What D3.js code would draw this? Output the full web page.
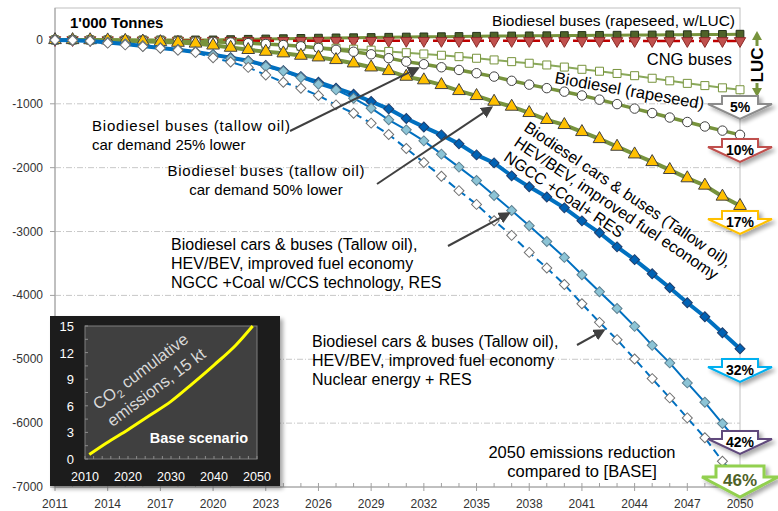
<!DOCTYPE html>
<html>
<head>
<meta charset="utf-8">
<script src="https://cdn.jsdelivr.net/npm/d3@7"></script>
<style>
  body { margin: 0; background: #fff; }
  svg { font-family: "Liberation Sans", Arial, sans-serif; }
</style>
</head>
<body>
<svg id="chart" width="778" height="511"></svg>
<script>
// years on the x axis
const years = [2011, 2012, 2013, 2014, 2015, 2016, 2017, 2018, 2019, 2020,
               2021, 2022, 2023, 2024, 2025, 2026, 2027, 2028, 2029, 2030,
               2031, 2032, 2033, 2034, 2035, 2036, 2037, 2038, 2039, 2040,
               2041, 2042, 2043, 2044, 2045, 2046, 2047, 2048, 2049, 2050];
const yTicks = [0, -1000, -2000, -3000, -4000, -5000, -6000, -7000];
const xLabelYears = [2011, 2014, 2017, 2020, 2023, 2026, 2029, 2032, 2035, 2038, 2041, 2044, 2047, 2050];

// emission change vs base, 1'000 tonnes
const busesRapeseedLuc = [0, 0, 0, 0, 0, 0, 0, 0, 0, 0,
  5, 10, 15, 20, 24, 28, 32, 35, 38, 42,
  45, 48, 51, 54, 57, 60, 62, 64, 66, 68,
  70, 72, 74, 76, 78, 80, 82, 85, 87, 90];
const busesRapeseed = [0, 0, 0, -2, -4, -6, -8, -10, -11, -12,
  -12, -12, -12, -13, -13, -13, -13, -13, -13, -13,
  -13, -13, -13, -14, -14, -14, -14, -14, -14, -14,
  -14, -14, -15, -15, -15, -15, -15, -15, -15, -15];
const cngBuses = [0, 0, 0, -2, -5, -8, -12, -18, -25, -35,
  -45, -55, -70, -85, -100, -115, -130, -145, -160, -180,
  -200, -220, -240, -262, -287, -313, -340, -365, -392, -425,
  -460, -490, -525, -560, -600, -640, -680, -715, -750, -780];
const biodieselRapeseed = [0, 0, 0, -3, -6, -10, -14, -19, -25, -30,
  -40, -50, -63, -80, -100, -125, -155, -185, -225, -285,
  -340, -380, -428, -470, -521, -574, -640, -700, -755, -810,
  -870, -935, -1005, -1075, -1145, -1215, -1285, -1355, -1420, -1486];
const biodieselTallow = [0, 0, -2, -5, -12, -22, -32, -42, -55, -85,
  -120, -155, -183, -208, -245, -271, -313, -365, -428, -485,
  -574, -630, -704, -798, -876, -965, -1043, -1142, -1251, -1330,
  -1440, -1550, -1670, -1790, -1910, -2034, -2164, -2279, -2451, -2597];
const tallowHevNgccRes = [0, -5, -15, -40, -65, -95, -125, -155, -190, -230,
  -280, -325, -400, -480, -574, -662, -756, -850, -965, -1080,
  -1230, -1362, -1487, -1627, -1800, -1925, -2128, -2300, -2460, -2629,
  -2833, -3020, -3240, -3440, -3660, -3880, -4116, -4335, -4585, -4836];
const tallowHevCcsRes = [0, -5, -15, -40, -65, -95, -125, -155, -190, -235,
  -290, -335, -415, -490, -590, -693, -782, -912, -1069, -1251,
  -1408, -1580, -1788, -1991, -2200, -2435, -2670, -2909, -3155, -3405,
  -3676, -3942, -4205, -4485, -4782, -5057, -5370, -5674, -6007, -6330];
const tallowHevNuclearRes = [0, -5, -15, -50, -78, -104, -130, -160, -195, -280,
  -345, -430, -548, -662, -756, -871, -1017, -1147, -1303, -1480,
  -1700, -1919, -2135, -2360, -2575, -2830, -3060, -3327, -3571, -3830,
  -4130, -4422, -4693, -4995, -5303, -5605, -5918, -6230, -6596, -6900];

// 2050 reduction labels
const reductionLabels = ["5%", "10%", "17%", "32%", "42%", "46%"];

// inset: base scenario cumulative CO2, kt
const insetYears = [2011, 2015, 2020, 2025, 2030, 2035, 2040, 2045, 2049];
const insetValues = [0.5, 1.8, 3.3, 4.9, 6.5, 8.5, 10.6, 12.8, 15];
const insetYTicks = [0, 3, 6, 9, 12, 15];
const insetXTicks = [2010, 2020, 2030, 2040, 2050];

const svg = d3.select("#chart");
const pLeft = 55, pRight = 740, pTop = 8, pBottom = 487;

const x = d3.scaleLinear().domain([2011, 2050]).range([pLeft, pRight]);
const y = d3.scaleLinear().domain([-7000, 500]).range([pBottom, pTop]);

const defs = svg.append("defs");
defs.append("marker")
  .attr("id", "ahead")
  .attr("viewBox", "0 0 10 10")
  .attr("refX", 8).attr("refY", 5)
  .attr("markerWidth", 6).attr("markerHeight", 6)
  .attr("orient", "auto")
  .append("path").attr("d", "M0,0 L10,5 L0,10 Z").attr("fill", "#404040");
const sh = defs.append("filter").attr("id", "shadow").attr("x", "-20%").attr("y", "-20%").attr("width", "150%").attr("height", "150%");
sh.append("feGaussianBlur").attr("in", "SourceAlpha").attr("stdDeviation", 2);
sh.append("feOffset").attr("dx", 3).attr("dy", 3).attr("result", "b");
sh.append("feComponentTransfer").append("feFuncA").attr("type", "linear").attr("slope", 0.35);
const mg = sh.append("feMerge");
mg.append("feMergeNode");
mg.append("feMergeNode").attr("in", "SourceGraphic");

// grid
svg.append("g").selectAll("line")
  .data(yTicks.filter(d => d !== 0 && d !== -7000))
  .join("line")
  .attr("x1", pLeft).attr("x2", pRight)
  .attr("y1", d => y(d)).attr("y2", d => y(d))
  .attr("stroke", "#c8c8c8").attr("stroke-width", 1)
  .attr("stroke-dasharray", "6,2,1,2");

// frame
svg.append("rect").attr("x", pLeft).attr("y", pTop).attr("width", pRight - pLeft).attr("height", pBottom - pTop)
  .attr("fill", "none").attr("stroke", "#c0c0c0").attr("stroke-width", 1);
svg.append("line").attr("x1", pLeft).attr("x2", pLeft).attr("y1", pTop).attr("y2", pBottom).attr("stroke", "#a0a0a0");
svg.append("line").attr("x1", pLeft).attr("x2", pRight).attr("y1", pBottom).attr("y2", pBottom).attr("stroke", "#a0a0a0");

// y axis
const yAxis = svg.append("g");
yAxis.selectAll("line").data(yTicks).join("line")
  .attr("x1", pLeft - 5).attr("x2", pLeft).attr("y1", d => y(d)).attr("y2", d => y(d)).attr("stroke", "#a0a0a0");
yAxis.selectAll("text").data(yTicks).join("text")
  .attr("x", pLeft - 12).attr("y", d => y(d) + 4)
  .attr("text-anchor", "end").attr("font-size", 12).attr("fill", "#333")
  .text(d => d);

// x axis
const xAxis = svg.append("g");
xAxis.selectAll("line.minor").data(years).join("line").attr("class", "minor")
  .attr("x1", d => x(d)).attr("x2", d => x(d)).attr("y1", pBottom - 4).attr("y2", pBottom).attr("stroke", "#a0a0a0");
xAxis.selectAll("line.major").data(xLabelYears).join("line").attr("class", "major")
  .attr("x1", d => x(d)).attr("x2", d => x(d)).attr("y1", pBottom).attr("y2", pBottom + 4).attr("stroke", "#a0a0a0");
xAxis.selectAll("text").data(xLabelYears).join("text")
  .attr("x", d => x(d)).attr("y", 508)
  .attr("text-anchor", "middle").attr("font-size", 12).attr("fill", "#333")
  .text(d => d);

// series
const series = [
  { v: busesRapeseedLuc, color: "#77933c", lw: 3, sym: d3.symbolSquare, size: 60, rot: 0, fill: "#4f6228", stroke: "#26331a" },
  { v: busesRapeseed, color: "#c00000", lw: 2.5, dash: "9,5", sym: d3.symbolTriangle, size: 55, rot: 180, fill: "#c0504d", stroke: "#8c2b28" },
  { v: cngBuses, color: "#8aa95a", lw: 2, sym: d3.symbolSquare, size: 64, rot: 0, fill: "#fff", stroke: "#77933c" },
  { v: biodieselRapeseed, color: "#77933c", lw: 3.5, sym: d3.symbolCircle, size: 70, rot: 0, fill: "#fff", stroke: "#404040" },
  { v: biodieselTallow, color: "#77933c", lw: 4, sym: d3.symbolTriangle, size: 70, rot: 0, fill: "#ffc000", stroke: "#404040" },
  { v: tallowHevNgccRes, color: "#0070c0", lw: 4, sym: d3.symbolSquare, size: 50, rot: 45, fill: "#0062b4", stroke: "#1f3d6b" },
  { v: tallowHevCcsRes, color: "#0070c0", lw: 2, sym: d3.symbolSquare, size: 50, rot: 45, fill: "#8cc4d6", stroke: "#5f8090" },
  { v: tallowHevNuclearRes, color: "#0070c0", lw: 2, dash: "8,5", sym: d3.symbolSquare, size: 50, rot: 45, fill: "#fff", stroke: "#707070" }
];

const line = d3.line().x((d, i) => x(years[i])).y(d => y(d));

series.forEach(s => {
  const g = svg.append("g");
  g.append("path").datum(s.v)
    .attr("d", line).attr("fill", "none")
    .attr("stroke", s.color).attr("stroke-width", s.lw)
    .attr("stroke-dasharray", s.dash || null);
  g.selectAll("path.m").data(s.v).join("path").attr("class", "m")
    .attr("d", d3.symbol().type(s.sym).size(s.size))
    .attr("transform", (d, i) => "translate(" + x(years[i]) + "," + y(d) + ") rotate(" + s.rot + ")")
    .attr("fill", s.fill).attr("stroke", s.stroke).attr("stroke-width", 1);
});

// text helpers
function label(xp, yp, txt, opts) {
  opts = opts || {};
  return svg.append("text")
    .attr("x", xp).attr("y", yp)
    .attr("font-size", opts.size || 15)
    .attr("font-weight", opts.bold ? "bold" : null)
    .attr("text-anchor", opts.anchor || "start")
    .attr("fill", opts.fill || "#000")
    .text(txt);
}

label(70, 28, "1'000 Tonnes", { size: 15, bold: true });
label(735, 26, "Biodiesel buses (rapeseed, w/LUC)", { anchor: "end", size: 15.5 });
label(732, 65, "CNG buses", { anchor: "end", size: 16.5 });
label(554, 83, "Biodiesel (rapeseed)", { size: 16.5 }).attr("transform", "rotate(10,554,83)");

// rotated label for dark blue line
const rl = svg.append("text").attr("font-size", 16).attr("transform", "translate(523,130) rotate(34)");
["Biodiesel cars & buses (Tallow oil),", "HEV/BEV, improved fuel economy", "NGCC +Coal+ RES"].forEach((t, i) => {
  rl.append("tspan").attr("x", 0).attr("y", i * 18).text(t);
});

function block(xp, yp, lines, size, anchor, firstLen) {
  const t = svg.append("text").attr("font-size", size).attr("text-anchor", anchor || "start");
  lines.forEach((l, i) => {
    const ts = t.append("tspan").attr("x", xp).attr("y", yp + i * 19).text(l);
    if (i === 0 && firstLen) ts.attr("textLength", firstLen).attr("lengthAdjust", "spacing");
  });
}
block(92, 131, ["Biodiesel buses (tallow oil)", "car demand 25% lower"], 15, "start", 198);
block(266, 176, ["Biodiesel buses (tallow oil)", "car demand 50% lower"], 15, "middle", 197);
block(171, 250, ["Biodiesel cars & buses (Tallow oil),", "HEV/BEV, improved fuel economy", "NGCC +Coal w/CCS technology, RES"], 16);
block(312, 347, ["Biodiesel cars & buses (Tallow oil),", "HEV/BEV, improved fuel economy", "Nuclear energy + RES"], 16);
block(582, 458, ["2050 emissions reduction", "compared to [BASE]"], 16.5, "middle");

// annotation arrows (tail in px -> head at a data point)
function pointer(x1, y1, yr, val, dx, dy) {
  svg.append("line")
    .attr("x1", x1).attr("y1", y1)
    .attr("x2", x(yr) + dx).attr("y2", y(val) + dy)
    .attr("stroke", "#404040").attr("stroke-width", 2)
    .attr("marker-end", "url(#ahead)");
}
pointer(290, 131, 2032, biodieselRapeseed[21], -6, 4);
pointer(377, 184, 2036, biodieselTallow[25], -3, 6);
pointer(448, 246, 2037, tallowHevCcsRes[26], -3, 3);
pointer(577, 345, 2042, tallowHevNuclearRes[31], 4, 8);

// LUC double arrow
const lucX = 757;
svg.append("line").attr("x1", lucX).attr("x2", lucX).attr("y1", 46).attr("y2", 36)
  .attr("stroke", "#77933c").attr("stroke-width", 3);
svg.append("line").attr("x1", lucX).attr("x2", lucX).attr("y1", 83).attr("y2", 92)
  .attr("stroke", "#77933c").attr("stroke-width", 3);
svg.append("path").attr("d", `M${lucX - 5},40 L${lucX},31 L${lucX + 5},40 Z`).attr("fill", "#77933c");
svg.append("path").attr("d", `M${lucX - 5},88 L${lucX},97 L${lucX + 5},88 Z`).attr("fill", "#77933c");
svg.append("text").attr("transform", `translate(${lucX + 6},65) rotate(-90)`)
  .attr("text-anchor", "middle").attr("font-size", 17).attr("font-weight", "bold").text("LUC");

// 2050 reduction block arrows
const arrowStyle = [
  { at: 96, color: "#8c8c8c", big: false, tc: "#000" },
  { at: 139, color: "#c0504d", big: false, tc: "#000" },
  { at: 211, color: "#ffc000", big: false, tc: "#000" },
  { at: 359, color: "#00b0f0", big: false, tc: "#000" },
  { at: 431, color: "#604a7b", big: false, tc: "#000" },
  { at: 466, color: "#92d050", big: true, tc: "#4f6228" }
];
reductionLabels.forEach((t, i) => {
  const a = arrowStyle[i];
  const cx = x(2050);
  const bw = a.big ? 48 : 36, hw = a.big ? 76 : 64, bh = a.big ? 11 : 8, hh = a.big ? 20 : 15;
  const p = `M${cx - bw / 2},${a.at} H${cx + bw / 2} V${a.at + bh} H${cx + hw / 2} L${cx},${a.at + bh + hh} L${cx - hw / 2},${a.at + bh} H${cx - bw / 2} Z`;
  svg.append("path").attr("d", p).attr("fill", "#fff")
    .attr("stroke", a.color).attr("stroke-width", a.big ? 3 : 2).attr("stroke-linejoin", "miter")
    .attr("filter", "url(#shadow)");
  svg.append("text").attr("x", cx).attr("y", a.at + (a.big ? 20 : 16))
    .attr("text-anchor", "middle").attr("font-weight", "bold")
    .attr("font-size", a.big ? 17 : 14).attr("fill", a.tc).text(t);
});

// inset chart
const inset = svg.append("g");
inset.append("rect").attr("x", 50).attr("y", 316).attr("width", 230).attr("height", 170)
  .attr("fill", "#1f1f1f").attr("filter", "url(#shadow)");
const xi = d3.scaleLinear().domain([2010, 2050]).range([85, 257]);
const yi = d3.scaleLinear().domain([0, 15]).range([459, 326]);
inset.append("rect").attr("x", xi(2010)).attr("y", yi(15)).attr("width", xi(2050) - xi(2010)).attr("height", yi(0) - yi(15))
  .attr("fill", "#404040").attr("stroke", "#7f7f7f");
inset.selectAll("line.yt").data(d3.range(0, 15.1, 1.5)).join("line").attr("class", "yt")
  .attr("x1", xi(2010)).attr("x2", xi(2010) + 3).attr("y1", d => yi(d)).attr("y2", d => yi(d)).attr("stroke", "#8c8c8c");
inset.selectAll("line.xt").data(d3.range(2010, 2051, 2)).join("line").attr("class", "xt")
  .attr("x1", d => xi(d)).attr("x2", d => xi(d)).attr("y1", yi(0)).attr("y2", yi(0) - 3).attr("stroke", "#8c8c8c");
inset.selectAll("text.yl").data(insetYTicks).join("text").attr("class", "yl")
  .attr("x", 74).attr("y", d => yi(d) + 5).attr("text-anchor", "end")
  .attr("font-size", 13).attr("fill", "#fff").text(d => d);
inset.selectAll("text.xl").data(insetXTicks).join("text").attr("class", "xl")
  .attr("x", d => xi(d)).attr("y", 481).attr("text-anchor", "middle")
  .attr("font-size", 12.5).attr("fill", "#fff").text(d => d);
inset.append("path").datum(insetValues)
  .attr("d", d3.line().x((d, i) => xi(insetYears[i])).y(d => yi(d)).curve(d3.curveMonotoneX))
  .attr("fill", "none").attr("stroke", "#ffff00").attr("stroke-width", 3);
const co = inset.append("text").attr("font-size", 16.5).attr("fill", "#d9d9d9")
  .attr("text-anchor", "middle").attr("transform", "translate(144,376) rotate(-37)");
const l1 = co.append("tspan").attr("x", 0).attr("y", 0);
l1.append("tspan").text("CO");
l1.append("tspan").attr("font-size", 11).attr("dy", 4).text("2");
l1.append("tspan").attr("dy", -4).text(" cumulative");
co.append("tspan").attr("x", 3).attr("y", 22).text("emissions, 15 kt");
inset.append("text").attr("x", 199).attr("y", 443).attr("text-anchor", "middle")
  .attr("font-size", 14.5).attr("font-weight", "bold").attr("fill", "#fff").text("Base scenario");
</script>
</body>
</html>
